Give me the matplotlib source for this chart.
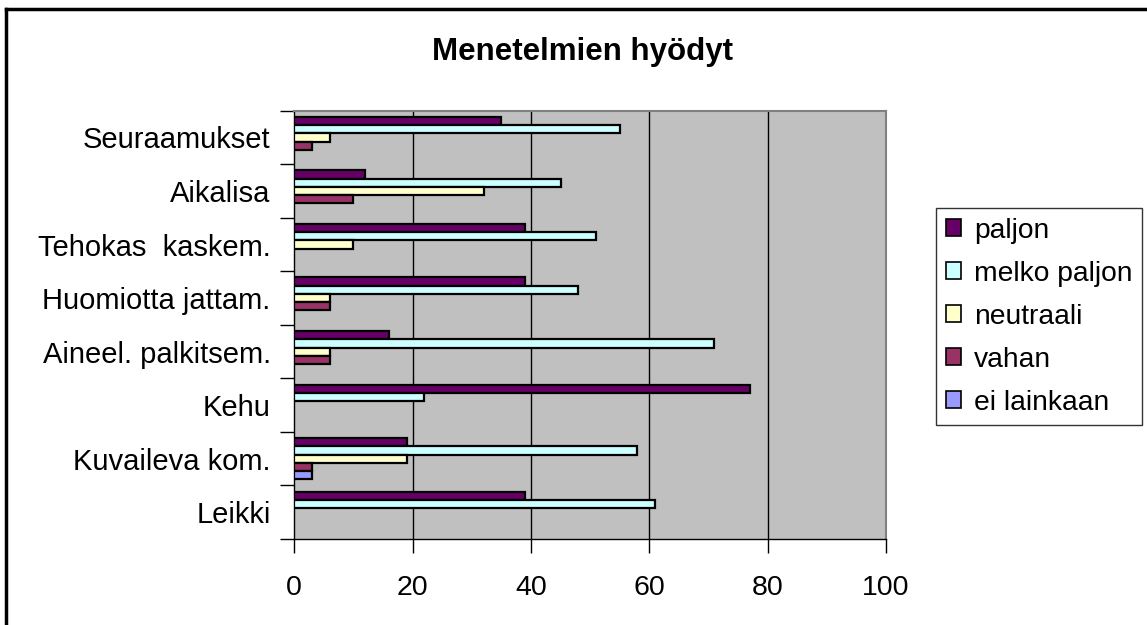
import numpy as np
import matplotlib
matplotlib.use("Agg")
import matplotlib.pyplot as plt
from matplotlib.patches import Patch
from matplotlib.lines import Line2D

plt.rcParams['font.family'] = ['Liberation Sans', 'DejaVu Sans']

title = "Menetelmien hyödyt"
categories = ["Seuraamukset", "Aikalisa", "Tehokas  kaskem.", "Huomiotta jattam.",
              "Aineel. palkitsem.", "Kehu", "Kuvaileva kom.", "Leikki"]
series_names = ["paljon", "melko paljon", "neutraali", "vahan", "ei lainkaan"]
paljon = [35, 12, 39, 39, 16, 77, 19, 39]
melko_paljon = [55, 45, 51, 48, 71, 22, 58, 61]
neutraali = [6, 32, 10, 6, 6, 0, 19, 0]
vahan = [3, 10, 0, 6, 6, 0, 3, 0]
ei_lainkaan = [0, 0, 0, 0, 0, 0, 3, 0]
x_ticks = [0, 20, 40, 60, 80, 100]

colors = ["#660066", "#CCFFFF", "#FFFFCC", "#993366", "#9999FF"]
series = [paljon, melko_paljon, neutraali, vahan, ei_lainkaan]

W, H = 1147, 625
fig = plt.figure(figsize=(W / 100, H / 100), dpi=100)
fig.patch.set_facecolor("white")

left, right, top, bottom = 294.3, 886, 110.7, 539
ax = fig.add_axes([left / W, 1 - bottom / H, (right - left) / W, (bottom - top) / H])
ax.set_facecolor("#C0C0C0")

n = len(categories)
ypos = np.arange(n)[::-1]  # top category at top
bw = 1 / 6.5
for j, (vals, col, name) in enumerate(zip(series, colors, series_names)):
    vals = np.array(vals, dtype=float)
    mask = vals > 0
    yc = ypos + (2 - j) * bw
    ax.barh(yc[mask], vals[mask], height=bw, color=col, edgecolor="black",
            linewidth=1.6, zorder=3)

ax.set_xlim(0, 100)
ax.set_ylim(-0.5, n - 0.5)
for xv in x_ticks[1:-1]:
    ax.axvline(xv, color="black", lw=1, zorder=1)

ax.set_xticks(x_ticks)
ax.set_xticklabels([str(v) for v in x_ticks], fontsize=20.5)
ax.tick_params(axis="x", direction="out", length=10, width=1, pad=16, colors="black")

ax.set_yticks(np.arange(n + 1) - 0.5)
ax.set_yticklabels([])
ax.tick_params(axis="y", which="major", direction="out", length=10, width=1)
ax.set_yticks(ypos, minor=True)
ax.set_yticklabels(categories, minor=True, fontsize=21)
ax.tick_params(axis="y", which="minor", length=0, pad=17)

for s in ["top", "right"]:
    ax.spines[s].set_color("#808080")
    ax.spines[s].set_linewidth(1.5)
for s in ["left", "bottom"]:
    ax.spines[s].set_color("black")
    ax.spines[s].set_linewidth(1)

fig.text(582 / W, 1 - 52 / H, title, ha="center", va="center",
         fontsize=22.5, fontweight="bold")

handles = [Patch(facecolor=c, edgecolor="black", linewidth=1.2, label=nm)
           for c, nm in zip(colors, series_names)]
leg = fig.legend(handles=handles, loc="upper left",
                 bbox_to_anchor=(936 / W, 1 - 208 / H), fontsize=20.3,
                 frameon=True, fancybox=False, edgecolor="black",
                 handlelength=0.55, handleheight=0.55, handletextpad=0.45,
                 labelspacing=0.6, borderpad=0.35, borderaxespad=0)
leg.get_frame().set_linewidth(1)

# outer chart frame
fig.add_artist(Line2D([6 / W, 6 / W], [0, 1 - 9 / H], transform=fig.transFigure,
                      color="black", lw=2.5))
fig.add_artist(Line2D([6 / W, 1], [1 - 9 / H, 1 - 9 / H], transform=fig.transFigure,
                      color="black", lw=2.5))

fig.savefig("out.png", dpi=100)
